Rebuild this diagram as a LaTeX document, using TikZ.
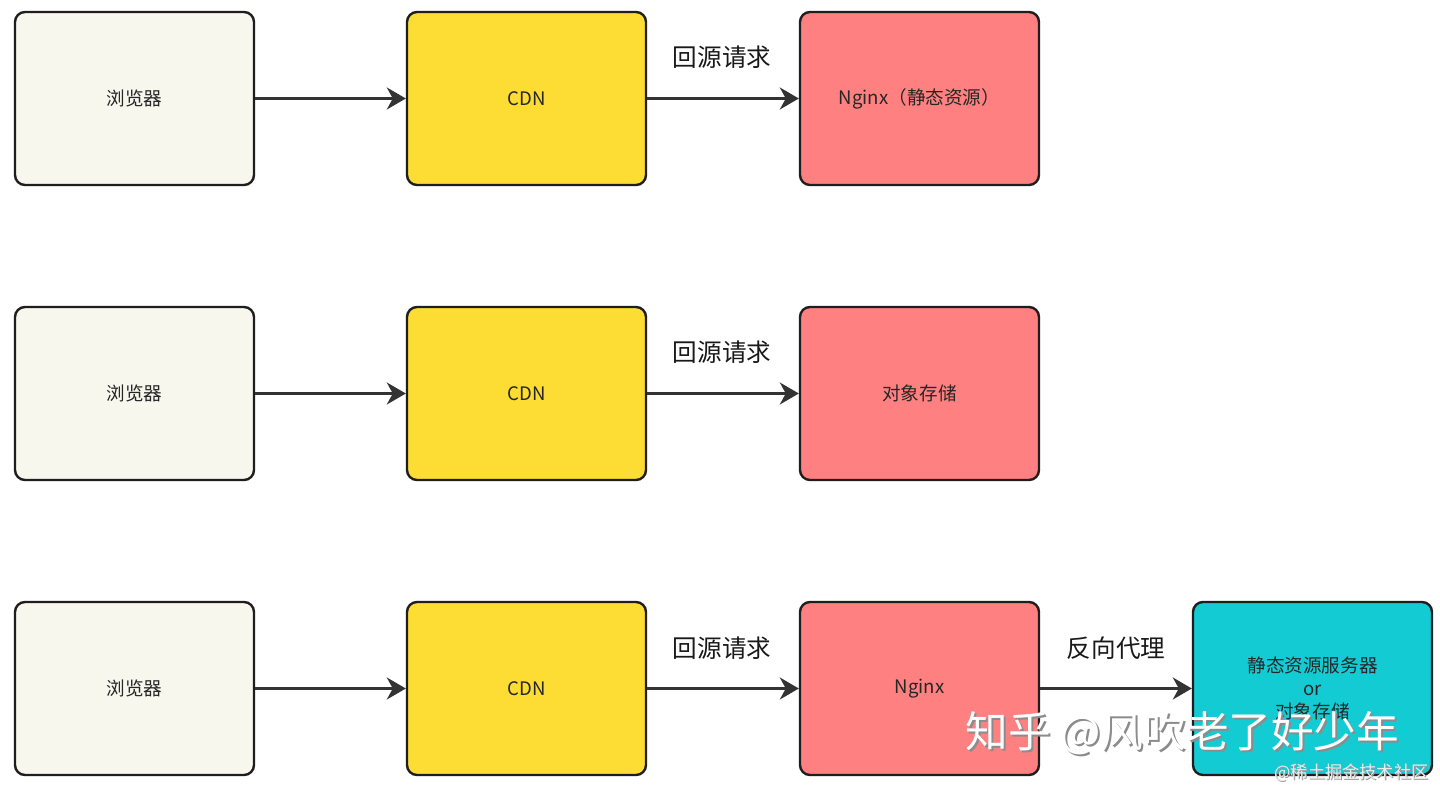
\documentclass[tikz,border=0pt]{standalone}
\usepackage{fontspec}
\setmainfont{Noto Sans CJK SC}
\usetikzlibrary{arrows.meta}
\definecolor{cbrowser}{HTML}{F8F7EE}
\definecolor{ccdn}{HTML}{FDDD33}
\definecolor{cnginx}{HTML}{FF8080}
\definecolor{ccyan}{HTML}{13CCD3}
\definecolor{cline}{HTML}{1E1E1E}
\definecolor{carrow}{HTML}{333333}
\tikzset{
  box/.style={draw=cline, line width=1.2pt, rounded corners=5pt, minimum width=119.5pt, minimum height=86.5pt, inner sep=0pt, font=\fontsize{9.3pt}{11pt}\selectfont, text=black!85, align=center},
  conn/.style={draw=carrow, line width=1.1pt, -{Stealth[length=9.5pt,width=11pt,inset=3pt]}},
  lbl/.style={font=\fontsize{12.3pt}{14pt}\selectfont, text=black!90, inner sep=0pt},
  wm/.style={text=white, inner sep=0pt}
}
\begin{document}
\begin{tikzpicture}[x=0.5pt,y=-0.5pt]
\useasboundingbox[fill=white] (0,0) rectangle (1440,791);
% row 1
\node[box, fill=cbrowser] (b1) at (134.5,98.5) {浏览器};
\node[box, fill=ccdn] (c1) at (526.5,98.5) {CDN};
\node[box, fill=cnginx] (n1) at (919.5,98.5) {Nginx（静态资源）};
\draw[conn] (b1) -- (c1);
\draw[conn] (c1) -- (n1);
\node[lbl] (l1) at (722,57) {回源请求};
% row 2
\node[box, fill=cbrowser] (b2) at (134.5,393.5) {浏览器};
\node[box, fill=ccdn] (c2) at (526.5,393.5) {CDN};
\node[box, fill=cnginx] (n2) at (919.5,393.5) {对象存储};
\draw[conn] (b2) -- (c2);
\draw[conn] (c2) -- (n2);
\node[lbl] (l2) at (722,352) {回源请求};
% row 3
\node[box, fill=cbrowser] (b3) at (134.5,688.5) {浏览器};
\node[box, fill=ccdn] (c3) at (526.5,688.5) {CDN};
\node[box, fill=cnginx] (n3) at (919.5,688.5) {Nginx};
\node[box, fill=ccyan, font=\fontsize{9.3pt}{11.5pt}\selectfont] (s3) at (1312.5,688.5) {静态资源服务器\\or\\对象存储};
\draw[conn] (b3) -- (c3);
\draw[conn] (c3) -- (n3);
\draw[conn] (n3) -- (s3);
\node[lbl] (l3) at (722,648) {回源请求};
\node[lbl] (l4) at (1116,648) {反向代理};
% watermarks
\node[wm, text=black!45, font=\fontsize{21.3pt}{22pt}\selectfont] (wms) at (1184.5,735.5) {知乎 @风吹老了好少年};
\node[wm, font=\fontsize{21.3pt}{22pt}\selectfont] (wm1) at (1182.5,733) {知乎 @风吹老了好少年};
\node[wm, text=black!40, font=\fontsize{8.6pt}{10pt}\selectfont] (wm2s) at (1352.5,774) {@稀土掘金技术社区};
\node[wm, font=\fontsize{8.6pt}{10pt}\selectfont, text=white!92!black] (wm2) at (1351.5,773) {@稀土掘金技术社区};
\end{tikzpicture}
\end{document}
